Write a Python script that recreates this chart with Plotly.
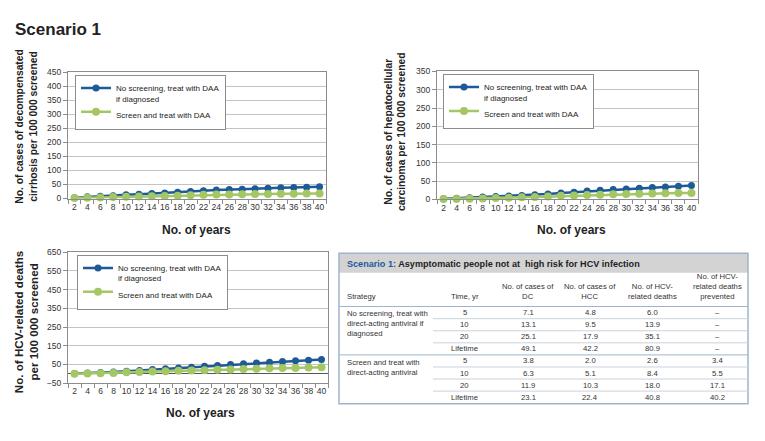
import plotly.graph_objects as go

W, H = 765, 441

# ---------------- data ----------------
years = [2, 4, 6, 8, 10, 12, 14, 16, 18, 20, 22, 24, 26, 28, 30, 32, 34, 36, 38, 40]
series_names = ["No screening, treat with DAA<br>if diagnosed", "Screen and treat with DAA"]

dc_no_screen = [3, 6, 8, 10, 13, 15, 18, 20, 22, 25, 28, 30, 32, 33, 35, 37, 38, 39, 40, 42]
dc_screen = [2, 3, 4, 5, 6, 7, 8, 9, 10, 12, 13, 14, 14, 15, 16, 16, 17, 17, 18, 18]

hcc_no_screen = [2, 3.5, 5, 6.5, 8, 9.5, 11, 13, 15, 18, 20, 23, 25, 27, 29, 31, 33, 34, 36, 38]
hcc_screen = [1, 1.5, 2, 3, 4, 5, 6, 7, 8, 10, 11, 12, 13, 14, 15, 16, 16.5, 17, 17.5, 18]

death_no_screen = [2, 4, 7, 10, 14, 18, 23, 28, 32, 36, 41, 45, 50, 54, 58, 62, 66, 70, 73, 77]
death_screen = [1, 2, 3, 5, 8, 10, 12, 14, 17, 18, 20, 22, 24, 26, 28, 30, 31, 32, 34, 35]

table_title_key = "Scenario 1:"
table_title_rest = " Asymptomatic people not at  high risk for HCV infection"
table_headers = ["Strategy", "Time, yr", "No. of cases of<br>DC", "No. of cases of<br>HCC",
                 "No. of HCV-<br>related deaths", "No. of HCV-<br>related deaths<br>prevented"]
table_strategies = ["No screening, treat with<br>direct-acting antiviral if<br>diagnosed",
                    "Screen and treat with<br>direct-acting antiviral"]
table_times = ["5", "10", "20", "Lifetime"]
table_dc = [[7.1, 13.1, 25.1, 49.1], [3.8, 6.3, 11.9, 23.1]]
table_hcc = [[4.8, 9.5, 17.9, 42.2], [2.0, 5.1, 10.3, 22.4]]
table_deaths = [[6.0, 13.9, 35.1, 80.9], [2.6, 8.4, 18.0, 40.8]]
table_prevented = [[None, None, None, None], [3.4, 5.5, 17.1, 40.2]]

# ---------------- style ----------------
BLUE = "#1d5a98"
GREEN = "#a3c765"
GRID = "#c4c4c4"
BORDER = "#8c8c8c"
TXT = "#222222"
FONT = "Liberation Sans, Arial, sans-serif"


def px(x):
    return x / W


def py(y):
    return 1 - y / H


fig = go.Figure()

panels = [
    (dc_no_screen, dc_screen, "x", "y", "legend"),
    (hcc_no_screen, hcc_screen, "x2", "y2", "legend2"),
    (death_no_screen, death_screen, "x3", "y3", "legend3"),
]
for ns, sc, xa, ya, lg in panels:
    fig.add_trace(go.Scatter(x=years, y=ns, name=series_names[0], mode="lines+markers",
                             line=dict(color=BLUE, width=2.5), marker=dict(color=BLUE, size=7),
                             xaxis=xa, yaxis=ya, legend=lg, cliponaxis=False))
    fig.add_trace(go.Scatter(x=years, y=sc, name=series_names[1], mode="lines+markers",
                             line=dict(color=GREEN, width=2.5), marker=dict(color=GREEN, size=8),
                             xaxis=xa, yaxis=ya, legend=lg, cliponaxis=False))

minor_ticks = [y - 1 for y in years] + [years[-1] + 1]


def xaxis(domain, anchor):
    return dict(domain=domain, anchor=anchor, range=[years[0] - 1, years[-1] + 1],
                tickvals=years, ticks="", showgrid=False, zeroline=False,
                showline=True, linecolor=BORDER, mirror=True,
                tickfont=dict(size=8.5, color="#333", family=FONT),
                minor=dict(tickvals=minor_ticks, ticks="outside", ticklen=4, tickcolor=BORDER,
                           showgrid=False))


def yaxis(domain, anchor, rng, tick0, dtick, zl=False):
    return dict(domain=domain, anchor=anchor, range=rng, tick0=tick0, dtick=dtick,
                showgrid=True, gridcolor=GRID, gridwidth=1,
                zeroline=zl, zerolinecolor="#555555", zerolinewidth=1,
                showline=True, linecolor=BORDER, mirror=True,
                ticks="outside", ticklen=4, tickcolor=BORDER,
                tickfont=dict(size=8.5, color="#333", family=FONT))


fig.update_layout(
    xaxis=xaxis([px(68), px(326)], "y"),
    yaxis=yaxis([py(198), py(69)], "x", [0, 450], 0, 50),
    xaxis2=xaxis([px(437), px(698)], "y2"),
    yaxis2=yaxis([py(199), py(68)], "x2", [0, 350], 0, 50),
    xaxis3=xaxis([px(68), px(328)], "y3"),
    yaxis3=yaxis([py(387), py(253)], "x3", [-50, 650], -50, 100, zl=True),
)

leg_common = dict(bgcolor="white", bordercolor=BORDER, borderwidth=1,
                  font=dict(size=8, color=TXT, family=FONT), xanchor="left", yanchor="top",
                  tracegroupgap=0, valign="top", itemwidth=30)
fig.update_layout(
    legend=dict(x=px(75), y=py(72), **leg_common),
    legend2=dict(x=px(443), y=py(71), **leg_common),
    legend3=dict(x=px(77), y=py(256), **leg_common),
)

annotations = []
# main title
annotations.append(dict(text="<b>Scenario 1</b>", x=px(13), y=py(25), xref="paper", yref="paper",
                        xanchor="left", yanchor="middle", showarrow=False,
                        font=dict(size=17, color=TXT, family=FONT)))
# axis titles
for xc, yc in [(197, 230), (571, 230), (200, 417)]:
    annotations.append(dict(text="<b>No. of years</b>", x=px(xc), y=py(yc), xref="paper", yref="paper",
                            xanchor="center", yanchor="middle", showarrow=False,
                            font=dict(size=12, color=TXT, family=FONT)))
ytitles = [
    ("No. of cases of decompensated<br>cirrhosis per 100 000 screened", 26.5, 124, 10.3),
    ("No. of cases of hepatocellular<br>carcinoma per 100 000 screened", 395, 130, 10.3),
    ("No. of HCV-related deaths<br>per 100 000 screened", 25.5, 325, 11.6),
]
for t, xc, yc, fs in ytitles:
    annotations.append(dict(text="<b>" + t + "</b>", x=px(xc), y=py(yc), xref="paper", yref="paper",
                            xanchor="center", yanchor="middle", showarrow=False, textangle=-90,
                            font=dict(size=fs, color=TXT, family=FONT)))

# ---------------- table ----------------
shapes = []
TL, TR, TT, TB = 339, 748, 254, 408
TBORDER = "#9db5cc"
RLINE = "#c9d3dd"
shapes.append(dict(type="rect", xref="paper", yref="paper", x0=px(TL), x1=px(TR), y0=py(274), y1=py(TT),
                   fillcolor="#d3d3d3", line=dict(width=0), layer="below"))
shapes.append(dict(type="rect", xref="paper", yref="paper", x0=px(TL), x1=px(TR), y0=py(TB), y1=py(TT),
                   line=dict(color=TBORDER, width=1.5)))
annotations.append(dict(text="<b><span style='color:" + BLUE + "'>" + table_title_key + "</span>"
                        + table_title_rest + "</b>",
                        x=px(345), y=py(265), xref="paper", yref="paper", xanchor="left", yanchor="middle",
                        showarrow=False, font=dict(size=9.1, color=TXT, family=FONT)))
col_x = [345, 465, 528, 590, 652, 717]
tfont = dict(size=7.7, color="#333", family=FONT)
for i, h in enumerate(table_headers):
    annotations.append(dict(text=h, x=px(col_x[i]), y=py(304.5), xref="paper", yref="paper",
                            xanchor="left" if i == 0 else "center", yanchor="bottom",
                            align="left" if i == 0 else "center", showarrow=False, font=tfont))
# header bottom line
shapes.append(dict(type="line", xref="paper", yref="paper", x0=px(TL), x1=px(TR), y0=py(308.5), y1=py(308.5),
                   line=dict(color=TBORDER, width=1)))
row_h = 12.35
row0 = 314.8
for g in range(2):
    gy = row0 + g * 4 * row_h
    annotations.append(dict(text=table_strategies[g], x=px(345), y=py(gy - 5.5), xref="paper", yref="paper",
                            xanchor="left", yanchor="top", align="left", showarrow=False, font=tfont))
    for r in range(4):
        yc = gy + r * row_h
        vals = [table_times[r], f"{table_dc[g][r]:.1f}", f"{table_hcc[g][r]:.1f}", f"{table_deaths[g][r]:.1f}",
                "–" if table_prevented[g][r] is None else f"{table_prevented[g][r]:.1f}"]
        for j, v in enumerate(vals):
            annotations.append(dict(text=v, x=px(col_x[j + 1]), y=py(yc), xref="paper", yref="paper",
                                    xanchor="center", yanchor="middle", showarrow=False, font=tfont))
        if r < 3:
            ly = yc + row_h / 2
            shapes.append(dict(type="line", xref="paper", yref="paper", x0=px(433), x1=px(TR),
                               y0=py(ly), y1=py(ly), line=dict(color=RLINE, width=1)))
    if g == 0:
        ly = gy + 3.5 * row_h
        shapes.append(dict(type="line", xref="paper", yref="paper", x0=px(TL), x1=px(TR),
                           y0=py(ly), y1=py(ly), line=dict(color=TBORDER, width=1)))

fig.update_layout(width=W, height=H, margin=dict(l=0, r=0, t=0, b=0),
                  paper_bgcolor="white", plot_bgcolor="white",
                  annotations=annotations, shapes=shapes, showlegend=True,
                  font=dict(family=FONT, color=TXT))

fig.write_html("out.html", config={"displayModeBar": False},
               post_script="document.body.style.margin='0px';")
